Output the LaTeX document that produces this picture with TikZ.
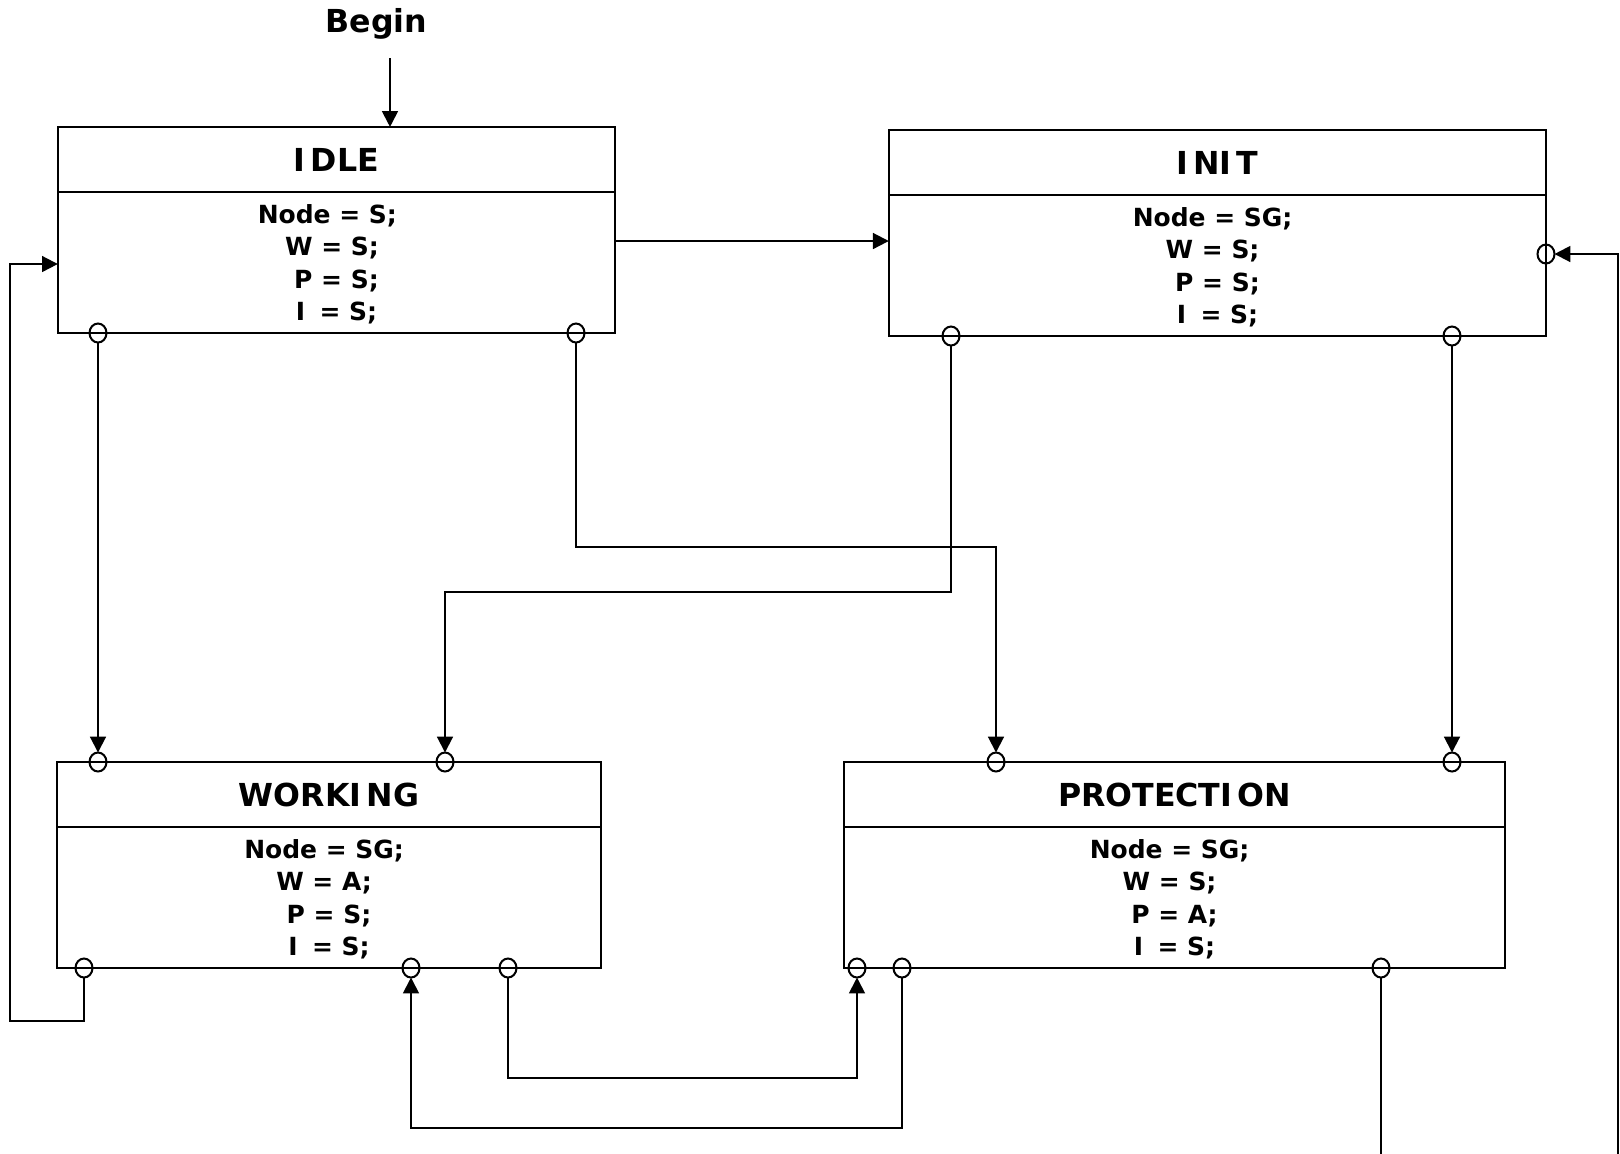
\documentclass[tikz,border=0pt]{standalone}
\usepackage{fontspec}
\setmainfont{DejaVu Sans}
\usetikzlibrary{arrows.meta,shapes.geometric,calc}
\tikzset{
  statebox/.style={draw, line width=0.65pt, rectangle, inner sep=0pt, outer sep=0pt, minimum height=2.06cm},
  headline/.style={line width=0.65pt},
  titletext/.style={font=\fontsize{9}{11}\selectfont\bfseries, inner sep=0pt},
  bodytext/.style={font=\fontsize{7.1}{9.25}\selectfont\bfseries, inner sep=0pt, anchor=base},
  port/.style={draw, ellipse, line width=0.57pt, inner sep=0pt, outer sep=0pt, minimum width=0.17cm, minimum height=0.19cm},
  conn/.style={line width=0.57pt, -{Triangle[length=4.5pt,width=4.5pt]}}
}
\newcommand{\bodylines}[4]{\begin{tabular}[t]{@{}c@{}}#1\\#2\\#3\\#4\end{tabular}}
\newcommand{\Ik}{I\kern1.6pt}
\begin{document}
\begin{tikzpicture}[x=0.01cm,y=-0.01cm]
\useasboundingbox (0,0) rectangle (1620,1153);
\clip (0,0) rectangle (1620,1153);

% state boxes
\node[statebox, minimum width=5.57cm] (idle) at (336.5,230) {};
\node[statebox, minimum width=6.57cm] (init) at (1217.5,233) {};
\node[statebox, minimum width=5.44cm] (work) at (329,865) {};
\node[statebox, minimum width=6.61cm] (prot) at (1174.5,865) {};

\foreach \b in {idle,init,work,prot}{
  \draw[headline] ([yshift=-0.65cm]\b.north west) -- ([yshift=-0.65cm]\b.north east);
}

% titles
\node[titletext] (idlet) at (idle.north |- 0,159.5) {I\kern1.5pt DLE};
\node[titletext] (initt) at (init.north |- 0,162.5) {I\kern1.5pt NI\kern1.5pt T};
\node[titletext] (workt) at (work.north |- 0,794.5) {WORKI\kern1.5pt NG};
\node[titletext] (prott) at (prot.north |- 0,794.5) {PROTECTI\kern1.5pt ON};

% bodies
\node[bodytext] (idleb) at (idle.north |- 0,223.3) {\bodylines{Node = S;\kern5.2pt}{W = S;\kern2.6pt}{P = S;}{\Ik{} = S;}};
\node[bodytext] (initb) at (init.north |- 0,226.3) {\bodylines{Node = SG;\kern2.8pt}{W = S;\kern2.8pt}{P = S;}{\Ik{} = S;}};
\node[bodytext] (workb) at (work.north |- 0,858.3) {\bodylines{Node = SG;\kern2.8pt}{W = A;\kern2.8pt}{P = S;}{\Ik{} = S;}};
\node[bodytext] (protb) at (prot.north |- 0,858.3) {\bodylines{Node = SG;\kern2.8pt}{W = S;\kern2.8pt}{P = A;}{\Ik{} = S;}};

% Begin
\node[titletext, anchor=base] (begin) at (376.5,32.3) {Begin};
\coordinate (bstart) at (390,58);

% ports
\node[port] (i1) at (98,333) {};
\node[port] (i2) at (576,333) {};
\node[port] (n1) at (951,336) {};
\node[port] (n2) at (1452,336) {};
\node[port] (n3) at (1546,254) {};
\node[port] (w1) at (98,762) {};
\node[port] (w2) at (445,762) {};
\node[port] (w3) at (84,968) {};
\node[port] (w4) at (411,968) {};
\node[port] (w5) at (508,968) {};
\node[port] (p1) at (996,762) {};
\node[port] (p2) at (1452,762) {};
\node[port] (p3) at (857,968) {};
\node[port] (p4) at (902,968) {};
\node[port] (p5) at (1381,968) {};

% connectors
\draw[conn] (bstart) -- (bstart |- idle.north);
\draw[conn] (idle.east |- 0,241) -- (init.west |- 0,241);
\draw[conn] (i1) -- (w1);
\draw[conn] (i2) -- (i2 |- 0,547) -| (p1);
\draw[conn] (n1) -- (n1 |- 0,592) -| (w2);
\draw[conn] (n2) -- (p2);
\draw[conn] (w3) -- (w3 |- 0,1021) -- (10,1021) -- (10,264) -- (idle.west |- 0,264);
\draw[conn] (w5) -- (w5 |- 0,1078) -| (p3);
\draw[conn] (p4) -- (p4 |- 0,1128) -| (w4);
\draw[conn] (p5) -- (p5 |- 0,1200) -- (1618,1200) -- (1618,254) -- (n3);
\end{tikzpicture}
\end{document}
